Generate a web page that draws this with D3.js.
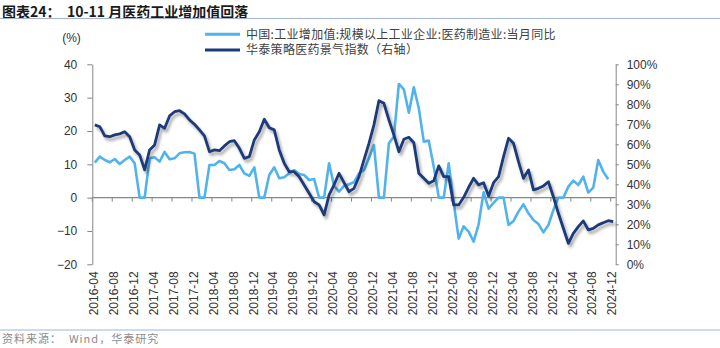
<!DOCTYPE html>
<html><head><meta charset="utf-8">
<script src="https://cdn.jsdelivr.net/npm/d3@7"></script>
<style>body{margin:0;background:#fff}svg{display:block}</style>
</head><body>
<svg id="c" width="720" height="348"></svg>
<script>
const startMonth = "2016-04";
const monthCount = 105;
const tickLabels = ["2016-04","2016-08","2016-12","2017-04","2017-08","2017-12","2018-04","2018-08","2018-12","2019-04","2019-08","2019-12","2020-04","2020-08","2020-12","2021-04","2021-08","2021-12","2022-04","2022-08","2022-12","2023-04","2023-08","2023-12","2024-04","2024-08","2024-12"];
const leftTicks = [-20,-10,0,10,20,30,40];
const rightTicks = [0,10,20,30,40,50,60,70,80,90,100];
const seriesNames = ["中国:工业增加值:规模以上工业企业:医药制造业:当月同比","华泰策略医药景气指数（右轴）"];
// 医药制造业工业增加值当月同比 (%), 2016-04 .. 2024-11
const industryYoY = [10.5,12.3,11.3,10.6,11.6,10.1,11.3,12.3,10.3,0,0,11.8,
  12.1,10.8,13.7,11.5,11.8,13.3,13.6,13.7,13.2,0,0,9.8,
  9.8,11.0,10.3,8.3,8.5,9.8,7.3,6.5,9.1,0,0,6.8,
  9.1,5.8,6.1,7.3,8.3,7.1,6.8,5.3,5.6,0,0,10.3,
  3.5,1.8,3.5,4.0,4.6,7.3,8.3,11.8,15.8,0,0,16.3,
  18.3,34.1,32.5,25.5,33.1,26.8,16.8,17.1,9.3,0,0,10.3,
  -1.5,-12.3,-8.6,-10.2,-13.2,-8.0,1.6,-3.3,-1.6,0,0,-8.2,
  -7.0,-4.2,-2.0,-4.7,-6.7,-7.9,-10.4,-8.2,-3.7,0,0,3.3,
  5.1,3.8,6.3,1.5,3.0,11.3,7.8,5.5];
// 华泰策略医药景气指数 (%), 2016-04 .. 2024-12
const sentimentIndex = [69.7,68.8,64.2,63.8,64.7,65.2,66.3,63.8,57.2,54.7,47.2,57.2,
  59.7,69.7,68.0,74.2,76.3,76.8,75.2,72.2,70.0,67.2,64.2,56.3,
  57.2,56.8,59.2,61.3,61.8,58.0,53.0,53.8,62.2,66.3,72.5,68.3,
  67.2,57.2,50.5,46.3,46.3,43.8,39.7,35.5,31.3,29.7,24.7,34.7,
  39.7,45.5,40.8,36.3,38.0,43.8,52.2,60.5,69.7,81.8,80.5,72.2,
  64.7,56.3,62.5,63.5,60.8,45.5,43.0,40.5,41.8,49.2,43.8,43.8,
  29.7,29.7,33.5,38.5,43.0,39.7,40.8,34.2,40.8,43.8,53.8,63.0,
  60.5,51.3,43.0,47.2,37.2,38.0,39.2,41.3,33.8,25.5,18.0,10.5,
  15.5,18.8,21.7,17.2,18.0,19.7,20.8,21.8,21.3];

const parse = d3.timeParse("%Y-%m"), fmt = d3.timeFormat("%Y-%m");
const start = parse(startMonth);
const categories = d3.range(monthCount).map(k => fmt(d3.timeMonth.offset(start, k)));

const svg = d3.select("#c");
const L = 92.3, R = 615.7, T = 64.3, B = 264.3;
const x = d3.scaleBand().domain(categories).range([L, R]).padding(0);
const cx = c => x(c) + x.bandwidth() / 2;
const yL = d3.scaleLinear().domain([-20, 40]).range([B, T]);
const yR = d3.scaleLinear().domain([0, 100]).range([B, T]);
const axisFont = "'Liberation Sans', Arial, sans-serif";
const cjkFont = "'Noto Sans CJK SC', sans-serif";
const light = "#52b3ec", dark = "#1b3a78", axisCol = "#868686";

const defs = svg.append("defs");
const f = defs.append("filter").attr("id","sh").attr("x","-10%").attr("y","-10%").attr("width","120%").attr("height","130%");
f.append("feDropShadow").attr("dx",2).attr("dy",3).attr("stdDeviation",1.6).attr("flood-color","#000").attr("flood-opacity",0.35);

// title
svg.append("text").attr("x",2).attr("y",16.5).attr("font-family",cjkFont).attr("font-size",14).attr("font-weight","bold").attr("fill","#1a1a1a")
  .attr("xml:space","preserve").style("white-space","pre").text("图表24：  10-11 月医药工业增加值回落");
svg.append("line").attr("x1",0).attr("x2",720).attr("y1",18.5).attr("y2",18.5).attr("stroke","#9fb4d6").attr("stroke-width",1);

// unit
svg.append("text").attr("x",71.5).attr("y",42).attr("text-anchor","middle").attr("font-family",axisFont).attr("font-size",12).attr("fill","#333").text("(%)");

// legend
const leg = [{c:light,y:34.3},{c:dark,y:50}];
leg.forEach((l,i) => {
  svg.append("line").attr("x1",205).attr("x2",240).attr("y1",l.y).attr("y2",l.y).attr("stroke",l.c).attr("stroke-width",3);
  svg.append("text").attr("x",246).attr("y",l.y+4.2).attr("font-family",cjkFont).attr("font-size",12).attr("letter-spacing","0.3px").attr("fill","#404040").text(seriesNames[i]);
});

// left axis
const ga = svg.append("g").attr("transform",`translate(${L},0)`)
  .call(d3.axisLeft(yL).tickValues(leftTicks).tickSize(5).tickPadding(10).tickSizeOuter(0));
ga.select(".domain").attr("stroke",axisCol);
ga.selectAll(".tick line").attr("stroke",axisCol);
ga.selectAll("text").attr("font-family",axisFont).attr("font-size",12).attr("fill","#333");

// right axis
const gr = svg.append("g").attr("transform",`translate(${R},0)`)
  .call(d3.axisRight(yR).tickValues(rightTicks).tickFormat(d => d + "%").tickSize(3).tickPadding(8).tickSizeOuter(0));
gr.select(".domain").attr("stroke",axisCol);
gr.selectAll(".tick line").attr("stroke",axisCol);
gr.selectAll("text").attr("font-family",axisFont).attr("font-size",12).attr("fill","#333");

// zero line with category ticks
svg.append("line").attr("x1",L).attr("x2",R).attr("y1",yL(0)).attr("y2",yL(0)).attr("stroke",axisCol).attr("stroke-width",1.2);
const tickIdx = tickLabels.map(t => categories.indexOf(t));
svg.append("g").selectAll("line").data(tickIdx).join("line")
  .attr("x1",i => x(categories[i])).attr("x2",i => x(categories[i]))
  .attr("y1",yL(0)).attr("y2",yL(0)+4).attr("stroke",axisCol).attr("stroke-width",1);

// x labels
svg.append("g").selectAll("text").data(tickLabels).join("text")
  .attr("transform",d => `translate(${cx(d)-1},${B+7}) rotate(-90)`)
  .attr("text-anchor","end").attr("dy","0.35em")
  .attr("font-family",axisFont).attr("font-size",12).attr("fill","#333").text(d => d);

// series
const lineL = d3.line().x((d,i) => cx(categories[i])).y(d => yL(d));
const lineR = d3.line().x((d,i) => cx(categories[i])).y(d => yR(d));
svg.append("path").attr("d",lineL(industryYoY)).attr("fill","none").attr("stroke",light).attr("stroke-width",2.6).attr("stroke-linejoin","round");
svg.append("path").attr("d",lineR(sentimentIndex)).attr("fill","none").attr("stroke",dark).attr("stroke-width",2.8).attr("stroke-linejoin","round").attr("filter","url(#sh)");

// footer
svg.append("line").attr("x1",0).attr("x2",720).attr("y1",330).attr("y2",330).attr("stroke","#9fb4d6").attr("stroke-width",1);
svg.append("text").attr("x",2).attr("y",343).attr("font-family",cjkFont).attr("font-size",11).attr("letter-spacing","1px").attr("fill","#8c8c8c")
  .attr("xml:space","preserve").style("white-space","pre").text("资料来源：  Wind，华泰研究");
</script>
</body></html>
